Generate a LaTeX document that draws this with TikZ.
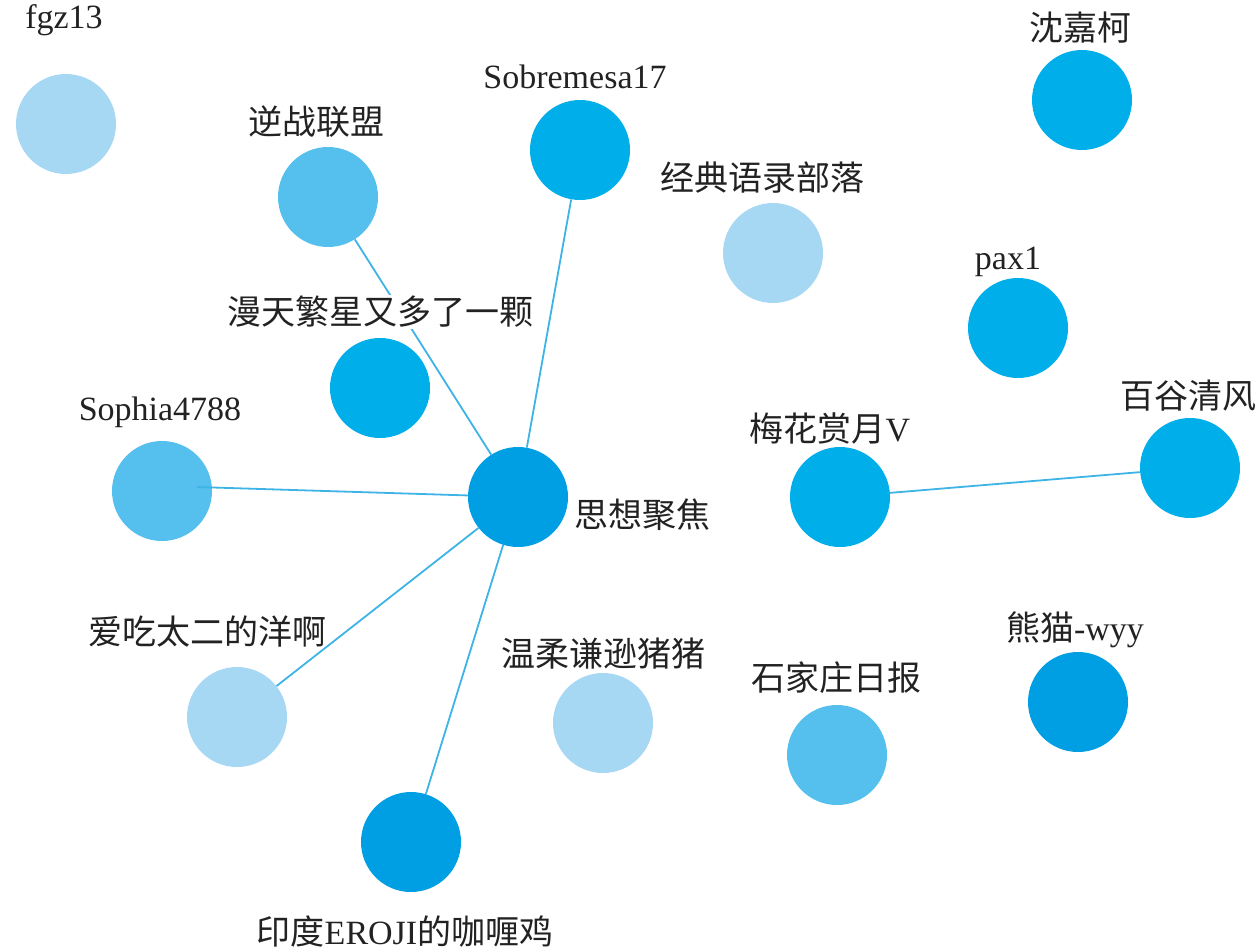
\documentclass[tikz,border=0pt]{standalone}
\usepackage{fontspec}
\setmainfont{Liberation Serif}
\newfontfamily\cjk{Noto Sans CJK SC}
\definecolor{cLight}{HTML}{A6D8F4}
\definecolor{cMed}{HTML}{55BFEE}
\definecolor{cCyan}{HTML}{00AEEA}
\definecolor{cDark}{HTML}{009FE3}
\definecolor{cEdge}{HTML}{3DB3E6}
\definecolor{cText}{HTML}{222222}
\begin{document}
\begin{tikzpicture}[x=1pt,y=-1pt,
  nd/.style={circle,minimum size=100pt,inner sep=0pt},
  lbl/.style={text=cText,font=\fontsize{34}{36}\selectfont,inner sep=1pt},
  edge/.style={draw=cEdge,line width=1.8pt}]
\useasboundingbox (0,0) rectangle (1260,950);
\node[nd] (fgz) at (66,124) {};
\node[nd] (nz) at (328,197) {};
\node[nd] (sob) at (580,150) {};
\node[nd] (jd) at (773,253) {};
\node[nd] (sjk) at (1082,100) {};
\node[nd] (pax) at (1018,328) {};
\node[nd] (mt) at (380,388) {};
\node[nd] (sop) at (162,491) {};
\node[nd] (sx) at (518,497) {};
\node[nd] (mh) at (840,497) {};
\node[nd] (bg) at (1190,468) {};
\node[nd] (ac) at (237,717) {};
\node[nd] (wr) at (603,723) {};
\node[nd] (sjz) at (837,755) {};
\node[nd] (xm) at (1078,702) {};
\node[nd] (yd) at (411,842) {};
% circles
\fill[cLight] (fgz) circle (50);
\fill[cMed] (nz) circle (50);
\fill[cCyan] (sob) circle (50);
\fill[cLight] (jd) circle (50);
\fill[cCyan] (sjk) circle (50);
\fill[cCyan] (pax) circle (50);
\fill[cCyan] (mt) circle (50);
\fill[cMed] (sop) circle (50);
\fill[cDark] (sx) circle (50);
\fill[cCyan] (mh) circle (50);
\fill[cCyan] (bg) circle (50);
\fill[cLight] (ac) circle (50);
\fill[cLight] (wr) circle (50);
\fill[cMed] (sjz) circle (50);
\fill[cDark] (xm) circle (50);
\fill[cDark] (yd) circle (50);
% edges
\coordinate (sopend) at ([xshift=35pt,yshift=4pt]sop.center);
\draw[edge] (nz) -- (sx);
\draw[edge] (sob) -- (sx);
\draw[edge] (sopend) -- (sx);
\draw[edge] (ac) -- (sx);
\draw[edge] (yd) -- (sx);
\draw[edge] (mh) -- (bg);
% labels
\node[lbl] (l1) at (64,20) {fgz13};
\node[lbl] (l2) at (316,122) {\cjk 逆战联盟};
\node[lbl] (l3) at (575,77) {Sobremesa17};
\node[lbl] (l4) at (762,178) {\cjk 经典语录部落};
\node[lbl] (l5) at (1080,28) {\cjk 沈嘉柯};
\node[lbl] (l6) at (1008,262) {pax1};
\node[lbl,fill=white] (l7) at (380,312) {\cjk 漫天繁星又多了一颗};
\node[lbl] (l8) at (160,412) {Sophia4788};
\node[lbl] (l9) at (642,515) {\cjk 思想聚焦};
\node[lbl] (l10) at (830,428) {{\cjk 梅花赏月}V};
\node[lbl] (l11) at (1188,396) {\cjk 百谷清风};
\node[lbl] (l12) at (207,632) {\cjk 爱吃太二的洋啊};
\node[lbl] (l13) at (603,654) {\cjk 温柔谦逊猪猪};
\node[lbl] (l14) at (836,678) {\cjk 石家庄日报};
\node[lbl] (l15) at (1075,630) {{\cjk 熊猫}-wyy};
\node[lbl] (l16) at (405,932) {{\cjk 印度}EROJI{\cjk 的咖喱鸡}};
\end{tikzpicture}
\end{document}
